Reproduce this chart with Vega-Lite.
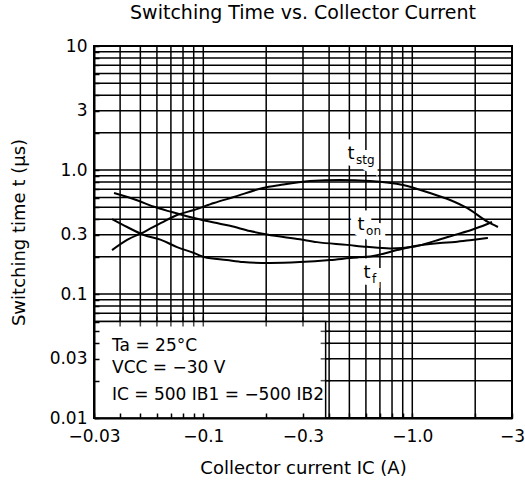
{
  "$schema": "https://vega.github.io/schema/vega-lite/v6.json",
  "width": 418,
  "height": 372,
  "autosize": {"type": "none"},
  "padding": {"left": 94, "top": 46, "right": 13, "bottom": 73},
  "background": "white",
  "config": {"view": {"stroke": "black", "strokeWidth": 2}, "font": "DejaVu Sans"},
  "title": {"text": "Switching Time vs. Collector Current", "fontSize": 19, "fontWeight": "normal", "font": "DejaVu Sans", "color": "black", "offset": 14, "anchor": "middle"},
  "datasets": {
    "xgrid": [{"v": 0.04}, {"v": 0.05}, {"v": 0.06}, {"v": 0.07}, {"v": 0.08}, {"v": 0.09}, {"v": 0.1}, {"v": 0.2}, {"v": 0.3}, {"v": 0.4}, {"v": 0.5}, {"v": 0.6}, {"v": 0.7}, {"v": 0.8}, {"v": 0.9}, {"v": 1}, {"v": 2}],
    "ygrid": [{"v": 0.02}, {"v": 0.03}, {"v": 0.04}, {"v": 0.05}, {"v": 0.06}, {"v": 0.07}, {"v": 0.08}, {"v": 0.09}, {"v": 0.1}, {"v": 0.2}, {"v": 0.3}, {"v": 0.4}, {"v": 0.5}, {"v": 0.6}, {"v": 0.7}, {"v": 0.8}, {"v": 0.9}, {"v": 1}, {"v": 2}, {"v": 3}, {"v": 4}, {"v": 5}, {"v": 6}, {"v": 7}, {"v": 8}, {"v": 9}],
    "box": [{"name": "conditions"}],
    "curves": [
      {"series": "tstg", "I": 0.0366, "t": 0.226}, {"series": "tstg", "I": 0.0432, "t": 0.273}, {"series": "tstg", "I": 0.052, "t": 0.316}, {"series": "tstg", "I": 0.0628, "t": 0.374}, {"series": "tstg", "I": 0.0749, "t": 0.434}, {"series": "tstg", "I": 0.0903, "t": 0.476}, {"series": "tstg", "I": 0.1125, "t": 0.542}, {"series": "tstg", "I": 0.14, "t": 0.605}, {"series": "tstg", "I": 0.193, "t": 0.716}, {"series": "tstg", "I": 0.233, "t": 0.757}, {"series": "tstg", "I": 0.324, "t": 0.815}, {"series": "tstg", "I": 0.451, "t": 0.83}, {"series": "tstg", "I": 0.628, "t": 0.815}, {"series": "tstg", "I": 0.903, "t": 0.757}, {"series": "tstg", "I": 1.216, "t": 0.652}, {"series": "tstg", "I": 1.516, "t": 0.573}, {"series": "tstg", "I": 1.827, "t": 0.494}, {"series": "tstg", "I": 2.3, "t": 0.381}, {"series": "tstg", "I": 2.57, "t": 0.347},
      {"series": "ton", "I": 0.0374, "t": 0.652}, {"series": "ton", "I": 0.0482, "t": 0.57}, {"series": "ton", "I": 0.0581, "t": 0.505}, {"series": "ton", "I": 0.07, "t": 0.46}, {"series": "ton", "I": 0.0903, "t": 0.41}, {"series": "ton", "I": 0.1125, "t": 0.377}, {"series": "ton", "I": 0.1342, "t": 0.355}, {"series": "ton", "I": 0.1673, "t": 0.322}, {"series": "ton", "I": 0.2018, "t": 0.302}, {"series": "ton", "I": 0.29, "t": 0.276}, {"series": "ton", "I": 0.35, "t": 0.262}, {"series": "ton", "I": 0.487, "t": 0.249}, {"series": "ton", "I": 0.607, "t": 0.24}, {"series": "ton", "I": 0.783, "t": 0.233}, {"series": "ton", "I": 1.031, "t": 0.242}, {"series": "ton", "I": 1.285, "t": 0.268}, {"series": "ton", "I": 1.601, "t": 0.3}, {"series": "ton", "I": 1.931, "t": 0.33}, {"series": "ton", "I": 2.228, "t": 0.36}, {"series": "ton", "I": 2.407, "t": 0.381},
      {"series": "tf", "I": 0.0366, "t": 0.402}, {"series": "tf", "I": 0.0432, "t": 0.347}, {"series": "tf", "I": 0.052, "t": 0.299}, {"series": "tf", "I": 0.0628, "t": 0.273}, {"series": "tf", "I": 0.0749, "t": 0.239}, {"series": "tf", "I": 0.0903, "t": 0.214}, {"series": "tf", "I": 0.1008, "t": 0.199}, {"series": "tf", "I": 0.1298, "t": 0.188}, {"series": "tf", "I": 0.155, "t": 0.181}, {"series": "tf", "I": 0.2085, "t": 0.178}, {"series": "tf", "I": 0.29, "t": 0.181}, {"series": "tf", "I": 0.404, "t": 0.188}, {"series": "tf", "I": 0.504, "t": 0.195}, {"series": "tf", "I": 0.649, "t": 0.2025}, {"series": "tf", "I": 0.845, "t": 0.226}, {"series": "tf", "I": 1.031, "t": 0.244}, {"series": "tf", "I": 1.357, "t": 0.258}, {"series": "tf", "I": 1.601, "t": 0.263}, {"series": "tf", "I": 1.931, "t": 0.273}, {"series": "tf", "I": 2.3, "t": 0.283}
    ],
    "labels": [
      {"main": "t", "sub": "stg", "I": 0.509, "t": 1.346},
      {"main": "t", "sub": "on", "I": 0.569, "t": 0.36},
      {"main": "t", "sub": "f", "I": 0.607, "t": 0.1477}
    ],
    "legend": [
      {"text": "Ta = 25°C", "I": 0.0366, "t": 0.0381},
      {"text": "VCC = −30 V", "I": 0.0366, "t": 0.0253},
      {"text": "IC = 500 IB1 = −500 IB2", "I": 0.0366, "t": 0.0153}
    ]
  },
  "layer": [
    {
      "data": {"name": "xgrid"},
      "mark": {"type": "rule", "color": "black", "strokeWidth": 1.5},
      "encoding": {
        "x": {"field": "v", "type": "quantitative", "title": "Collector current  IC (A)", "scale": {"type": "log", "domain": [0.03, 3], "nice": false}}
      }
    },
    {
      "data": {"name": "ygrid"},
      "mark": {"type": "rule", "color": "black", "strokeWidth": 1.5},
      "encoding": {
        "y": {"field": "v", "type": "quantitative", "title": "Switching time  t (μs)", "scale": {"type": "log", "domain": [0.01, 10], "nice": false}}
      }
    },
    {
      "data": {"name": "box"},
      "mark": {"type": "rect", "fill": "white", "stroke": "black", "strokeWidth": 1.5},
      "encoding": {
        "x": {"datum": 0.03, "type": "quantitative", "title": "Collector current  IC (A)"},
        "x2": {"datum": 0.385},
        "y": {"datum": 0.01, "type": "quantitative", "title": "Switching time  t (μs)"},
        "y2": {"datum": 0.06}
      }
    },
    {
      "data": {"name": "xgrid"},
      "transform": [{"filter": "datum.v <= 0.3"}],
      "mark": {"type": "tick", "orient": "vertical", "size": 10, "thickness": 1.5, "color": "black"},
      "encoding": {
        "x": {"field": "v", "type": "quantitative", "title": "Collector current  IC (A)"},
        "y": {"datum": 0.06, "type": "quantitative", "title": "Switching time  t (μs)"}
      }
    },
    {
      "data": {"name": "ygrid"},
      "transform": [{"filter": "datum.v <= 0.05"}],
      "mark": {"type": "tick", "orient": "horizontal", "size": 10, "thickness": 1.5, "color": "black"},
      "encoding": {
        "y": {"field": "v", "type": "quantitative", "title": "Switching time  t (μs)"},
        "x": {"datum": 0.385, "type": "quantitative", "title": "Collector current  IC (A)"}
      }
    },
    {
      "data": {"name": "curves"},
      "mark": {"type": "line", "color": "black", "strokeWidth": 2, "interpolate": "monotone"},
      "encoding": {
        "x": {
          "field": "I", "type": "quantitative", "title": "Collector current  IC (A)",
          "axis": {
            "values": [0.03, 0.04, 0.05, 0.06, 0.07, 0.08, 0.09, 0.1, 0.2, 0.3, 0.4, 0.5, 0.6, 0.7, 0.8, 0.9, 1, 2, 3],
            "labelExpr": "datum.value == 0.03 ? '−0.03' : datum.value == 0.1 ? '−0.1' : datum.value == 0.3 ? '−0.3' : datum.value == 1 ? '−1.0' : datum.value == 3 ? '−3' : ''",
            "grid": false, "tickSize": -5, "tickColor": "black", "tickWidth": 1.5,
            "domain": true, "domainColor": "black", "domainWidth": 2,
            "labelFont": "DejaVu Sans", "labelFontSize": 17, "labelColor": "black", "labelPadding": 15,
            "labelFlush": false, "labelOverlap": false, "labelBound": false,
            "titleFont": "DejaVu Sans", "titleFontSize": 18, "titleFontWeight": "normal", "titleColor": "black",
            "titleX": 209, "titleY": 50, "titleBaseline": "middle", "titleAlign": "center",
            "zindex": 1
          }
        },
        "y": {
          "field": "t", "type": "quantitative", "title": "Switching time  t (μs)",
          "axis": {
            "values": [0.01, 0.02, 0.03, 0.04, 0.05, 0.06, 0.07, 0.08, 0.09, 0.1, 0.2, 0.3, 0.4, 0.5, 0.6, 0.7, 0.8, 0.9, 1, 2, 3, 4, 5, 6, 7, 8, 9, 10],
            "labelExpr": "datum.value == 0.01 ? '0.01' : datum.value == 0.03 ? '0.03' : datum.value == 0.1 ? '0.1' : datum.value == 0.3 ? '0.3' : datum.value == 1 ? '1.0' : datum.value == 3 ? '3' : datum.value == 10 ? '10' : ''",
            "grid": false, "tickSize": -5, "tickColor": "black", "tickWidth": 1.5,
            "domain": true, "domainColor": "black", "domainWidth": 2,
            "labelFont": "DejaVu Sans", "labelFontSize": 17, "labelColor": "black", "labelPadding": 12,
            "labelFlush": false, "labelOverlap": false, "labelBound": false,
            "titleFont": "DejaVu Sans", "titleFontSize": 18, "titleFontWeight": "normal", "titleColor": "black",
            "titleX": -75, "titleY": 186, "titleAngle": -90, "titleBaseline": "middle", "titleAlign": "center",
            "zindex": 1
          }
        },
        "detail": {"field": "series"}
      }
    },
    {
      "data": {"name": "labels"},
      "mark": {"type": "text", "fontSize": 18, "align": "center", "baseline": "middle", "fill": "white", "stroke": "white", "strokeWidth": 14},
      "encoding": {
        "x": {"field": "I", "type": "quantitative", "title": "Collector current  IC (A)"},
        "y": {"field": "t", "type": "quantitative", "title": "Switching time  t (μs)"},
        "text": {"field": "main"}
      }
    },
    {
      "data": {"name": "labels"},
      "mark": {"type": "text", "fontSize": 12, "align": "left", "baseline": "middle", "dx": 5, "dy": 6, "fill": "white", "stroke": "white", "strokeWidth": 10},
      "encoding": {
        "x": {"field": "I", "type": "quantitative", "title": "Collector current  IC (A)"},
        "y": {"field": "t", "type": "quantitative", "title": "Switching time  t (μs)"},
        "text": {"field": "sub"}
      }
    },
    {
      "data": {"name": "labels"},
      "mark": {"type": "text", "fontSize": 18, "align": "center", "baseline": "middle", "color": "black"},
      "encoding": {
        "x": {"field": "I", "type": "quantitative", "title": "Collector current  IC (A)"},
        "y": {"field": "t", "type": "quantitative", "title": "Switching time  t (μs)"},
        "text": {"field": "main"}
      }
    },
    {
      "data": {"name": "labels"},
      "mark": {"type": "text", "fontSize": 12, "align": "left", "baseline": "middle", "dx": 5, "dy": 6, "color": "black"},
      "encoding": {
        "x": {"field": "I", "type": "quantitative", "title": "Collector current  IC (A)"},
        "y": {"field": "t", "type": "quantitative", "title": "Switching time  t (μs)"},
        "text": {"field": "sub"}
      }
    },
    {
      "data": {"name": "legend"},
      "mark": {"type": "text", "fontSize": 17, "align": "left", "baseline": "middle", "color": "black"},
      "encoding": {
        "x": {"field": "I", "type": "quantitative", "title": "Collector current  IC (A)"},
        "y": {"field": "t", "type": "quantitative", "title": "Switching time  t (μs)"},
        "text": {"field": "text"}
      }
    }
  ]
}
